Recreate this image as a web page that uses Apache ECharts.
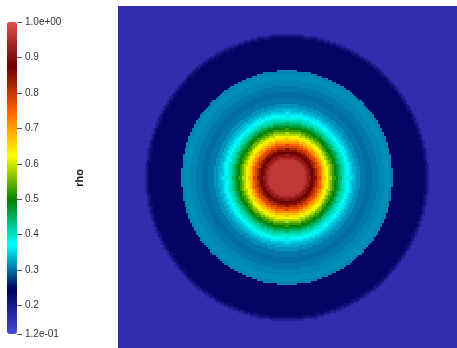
<!DOCTYPE html>
<html>
<head>
<meta charset="utf-8">
<script src="https://cdn.jsdelivr.net/npm/echarts@6/dist/echarts.min.js"></script>
<style>
  html, body { margin: 0; padding: 0; background: #ffffff; }
  #main { width: 457px; height: 348px; }
</style>
</head>
<body>
<div id="main"></div>
<script>
// Density field rho on a square domain [-1, 1] x [-1, 1].
// The field is radially symmetric: each ring (outer radius, rho) holds one value.
const ringOuterRadius = [0.110, 0.122, 0.134, 0.145, 0.157, 0.169, 0.180, 0.192, 0.203, 0.215,
                         0.227, 0.238, 0.250, 0.262, 0.273, 0.285, 0.297, 0.308, 0.320, 0.331,
                         0.343, 0.355, 0.366, 0.378, 0.390, 0.407, 0.430, 0.465, 0.500, 0.535,
                         0.570, 0.605, 0.625, 0.814, 0.826, 0.837, 1.500];
const ringRho = [0.965, 0.95, 0.92, 0.895, 0.875, 0.85, 0.815, 0.78, 0.745, 0.71,
                 0.675, 0.645, 0.615, 0.585, 0.555, 0.525, 0.50, 0.475, 0.45, 0.425,
                 0.405, 0.39, 0.375, 0.36, 0.345, 0.332, 0.318, 0.305, 0.300, 0.305,
                 0.312, 0.316, 0.312, 0.238, 0.22, 0.19, 0.165];

// Colour bar range and ticks
const rhoMin = 0.12;
const rhoMax = 1.0;
const tickValues = [0.12, 0.2, 0.3, 0.4, 0.5, 0.6, 0.7, 0.8, 0.9, 1.0];
const tickLabels = ['1.2e-01', '0.2', '0.3', '0.4', '0.5', '0.6', '0.7', '0.8', '0.9', '1.0e+00'];

// "Rainbow Desaturated" colour map, evenly spaced stops
const colorStops = ['#4747db', '#00005c', '#00ffff', '#008000', '#ffff00', '#ff6100', '#6b0000', '#e04d4d'];

// Mesh resolution (cells per side)
const cellsPerSide = 172;

function rhoAtRadius(r) {
  for (let k = 0; k < ringOuterRadius.length; k++) {
    if (r <= ringOuterRadius[k]) return ringRho[k];
  }
  return ringRho[ringRho.length - 1];
}

const cellIndex = [];
for (let i = 0; i < cellsPerSide; i++) cellIndex.push(i);

const cells = [];
for (let i = 0; i < cellsPerSide; i++) {
  const x = -1 + (i + 0.5) * 2 / cellsPerSide;
  for (let j = 0; j < cellsPerSide; j++) {
    const y = -1 + (j + 0.5) * 2 / cellsPerSide;
    cells.push([i, j, rhoAtRadius(Math.sqrt(x * x + y * y))]);
  }
}

// One filled cell per mesh element, snapped to whole pixels and overlapping
// its neighbours by a pixel so no seams show between cells.
function renderCell(params, api) {
  const c = api.coord([api.value(0), api.value(1)]);
  const s = api.size([1, 1]);
  return {
    type: 'rect',
    shape: {
      x: Math.floor(c[0] - s[0] / 2),
      y: Math.floor(c[1] - s[1] / 2),
      width: Math.ceil(s[0]) + 1,
      height: Math.ceil(s[1]) + 1
    },
    style: { fill: api.visual('color') },
    silent: true
  };
}

const chart = echarts.init(document.getElementById('main'), null, { renderer: 'canvas' });

const labelFont = { fontFamily: 'Liberation Sans, Arial, sans-serif', fontSize: 10, color: '#333333' };

chart.setOption({
  animation: false,
  backgroundColor: '#ffffff',
  grid: [
    { left: 118, top: 6, width: 344, height: 344, containLabel: false },
    { left: 17, top: 22, width: 1, height: 312, containLabel: false }
  ],
  xAxis: [
    { type: 'category', gridIndex: 0, data: cellIndex, show: false },
    { type: 'value', gridIndex: 1, show: false, min: 0, max: 1 }
  ],
  yAxis: [
    { type: 'category', gridIndex: 0, data: cellIndex, show: false },
    {
      type: 'value', gridIndex: 1, position: 'left',
      min: rhoMin, max: rhoMax,
      axisLine: { show: false },
      splitLine: { show: false },
      axisTick: { show: true, inside: true, length: 5, customValues: tickValues,
                  lineStyle: { color: '#555555', width: 1 } },
      axisLabel: Object.assign({
        show: true, inside: true, margin: 8, customValues: tickValues,
        formatter: function (v) {
          const k = tickValues.findIndex(function (t) { return Math.abs(t - v) < 1e-6; });
          return k >= 0 ? tickLabels[k] : '';
        }
      }, labelFont)
    }
  ],
  visualMap: {
    type: 'continuous',
    seriesIndex: 0,
    dimension: 2,
    min: rhoMin,
    max: rhoMax,
    calculable: false,
    orient: 'vertical',
    left: 7,
    top: 22,
    padding: 0,
    itemWidth: 10,
    itemHeight: 312,
    text: null,
    inRange: { color: colorStops }
  },
  graphic: [
    {
      type: 'text',
      x: 80,
      y: 178,
      rotation: Math.PI / 2,
      style: {
        text: 'rho',
        fontFamily: 'Liberation Sans, Arial, sans-serif',
        fontSize: 11,
        fontWeight: 'bold',
        fill: '#111111',
        align: 'center',
        verticalAlign: 'middle'
      }
    }
  ],
  series: [
    {
      type: 'custom',
      xAxisIndex: 0,
      yAxisIndex: 0,
      data: cells,
      encode: { x: 0, y: 1 },
      renderItem: renderCell,
      progressive: 0,
      clip: true
    }
  ]
});
</script>
</body>
</html>
